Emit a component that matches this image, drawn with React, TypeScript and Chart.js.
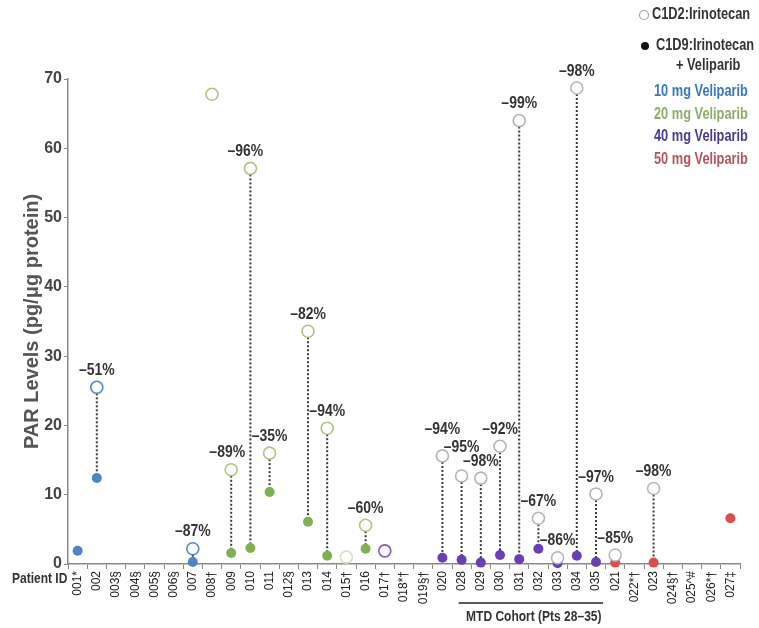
import React, { useEffect, useRef } from "react";
import { Chart, registerables } from "chart.js";

Chart.register(...registerables);

const patients = ["001*", "002", "003§", "004§", "005§", "006§", "007", "008†", "009", "010", "011", "012§", "013", "014", "015†", "016", "017†", "018*†", "019§†", "020", "028", "029", "030", "031", "032", "033", "034", "035", "021", "022*†", "023", "024§†", "025^#", "026*†", "027‡"];

const doseMg = [10, 10, 10, 10, 10, 10, 10, 20, 20, 20, 20, 20, 20, 20, 20, 20, 40, 40, 40, 40, 40, 40, 40, 40, 40, 40, 40, 40, 50, 50, 50, 50, 50, 50, 50];

const c1d2Irinotecan = [null, 25.5, null, null, null, null, 2.2, 67.8, 13.6, 57.1, 16.0, null, 33.6, 19.6, 1.0, 5.6, 1.9, null, null, 15.6, 12.7, 12.4, 17.0, 64.0, 6.6, 0.9, 68.7, 10.1, 1.3, null, 10.9, null, null, null, null];

const c1d9IrinotecanVeliparib = [1.9, 12.4, null, null, null, null, 0.3, null, 1.6, 2.3, 10.4, null, 6.1, 1.2, null, 2.2, null, null, null, 0.9, 0.6, 0.2, 1.3, 0.7, 2.2, 0.1, 1.2, 0.3, 0.2, null, 0.2, null, null, null, 6.6];

const pctChange = ["", "–51%", "", "", "", "", "–87%", "", "–89%", "–96%", "–35%", "", "–82%", "–94%", "", "–60%", "", "", "", "–94%", "–95%", "–98%", "–92%", "–99%", "–67%", "–86%", "–98%", "–97%", "–85%", "", "–98%", "", "", "", ""];

const yTicks = [0, 10, 20, 30, 40, 50, 60, 70];

const legendDoses = ["10 mg Veliparib", "20 mg Veliparib", "40 mg Veliparib", "50 mg Veliparib"];

// ---- styles ----
const FONT = "'Liberation Sans', Arial, sans-serif";
const filledColor: Record<number, string> = { 10: "#4f83c4", 20: "#80b150", 40: "#6a3fb5", 50: "#d8504e" };
const openColor: Record<number, string> = { 10: "#5b87c0", 20: "#aec484", 40: "#b4b4b4", 50: "#b8b8b8" };
const openOverride: Record<string, string> = { "015†": "#d8e2bf", "017†": "#7c5cb8" };
const legendColors = ["#3a77b8", "#8fab6a", "#4b3a8c", "#b5525c"];
const labelLift: Record<string, number> = { "020": 10, "028": 12 };
const labelShiftX: Record<string, number> = { "009": -4, "010": -5 };

function narrowText(ctx: any, text: string, x: number, y: number, align: string, sx: number) {
  ctx.save();
  ctx.translate(x, y);
  ctx.scale(sx, 1);
  ctx.textAlign = align;
  ctx.fillText(text, 0, 0);
  ctx.restore();
}

const overlayPlugin = {
  id: "overlay",
  beforeDatasetsDraw(chart: any) {
    const ctx = chart.ctx;
    const x = chart.scales.x;
    const y = chart.scales.y;
    ctx.save();
    ctx.strokeStyle = "#3a3a3a";
    ctx.lineWidth = 2;
    ctx.setLineDash([2, 2]);
    patients.forEach((p, i) => {
      const a = c1d2Irinotecan[i];
      const b = c1d9IrinotecanVeliparib[i];
      if (a == null || b == null) return;
      const px = x.getPixelForValue(i);
      ctx.beginPath();
      ctx.moveTo(px, y.getPixelForValue(a) + 6);
      ctx.lineTo(px, y.getPixelForValue(b));
      ctx.stroke();
    });
    ctx.restore();
  },
  afterDatasetsDraw(chart: any) {
    const ctx = chart.ctx;
    const x = chart.scales.x;
    const y = chart.scales.y;
    ctx.save();
    ctx.font = `bold 17px ${FONT}`;
    ctx.fillStyle = "#333";
    ctx.textBaseline = "middle";
    patients.forEach((p, i) => {
      const t = pctChange[i];
      const a = c1d2Irinotecan[i];
      if (!t || a == null) return;
      const px = x.getPixelForValue(i) + (labelShiftX[p] || 0);
      const py = y.getPixelForValue(a) - 17 - (labelLift[p] || 0);
      narrowText(ctx, t, px, py, "center", 0.82);
    });

    // Patient ID
    ctx.font = `bold 15px ${FONT}`;
    narrowText(ctx, "Patient ID", 12, 579, "left", 0.8);

    // MTD cohort bracket
    const x0 = x.getPixelForValue(20) - 3;
    const x1 = x.getPixelForValue(27) + 7;
    ctx.strokeStyle = "#222";
    ctx.lineWidth = 1.5;
    ctx.beginPath();
    ctx.moveTo(x0, 603);
    ctx.lineTo(x1, 603);
    ctx.stroke();
    ctx.font = `bold 15px ${FONT}`;
    narrowText(ctx, "MTD Cohort (Pts 28–35)", (x0 + x1) / 2 + 3, 617, "center", 0.8);

    // legend
    ctx.font = `bold 16px ${FONT}`;
    ctx.strokeStyle = "#a0a0a0";
    ctx.lineWidth = 1.2;
    ctx.beginPath();
    ctx.arc(644, 15, 4.5, 0, Math.PI * 2);
    ctx.fillStyle = "#fff";
    ctx.fill();
    ctx.stroke();
    ctx.fillStyle = "#333";
    narrowText(ctx, "C1D2:Irinotecan", 652, 15, "left", 0.8);
    ctx.fillStyle = "#111";
    ctx.beginPath();
    ctx.arc(645, 46, 4, 0, Math.PI * 2);
    ctx.fill();
    ctx.fillStyle = "#333";
    narrowText(ctx, "C1D9:Irinotecan", 656, 46, "left", 0.8);
    narrowText(ctx, "+ Veliparib", 676, 66, "left", 0.8);
    legendDoses.forEach((d, k) => {
      ctx.fillStyle = legendColors[k];
      narrowText(ctx, d, 654, 92 + k * 22.5, "left", 0.8);
    });
    ctx.restore();
  },
};

export default function App() {
  const ref = useRef<HTMLCanvasElement | null>(null);
  useEffect(() => {
    if (!ref.current) return;
    const chart = new Chart(ref.current, {
      type: "line",
      data: {
        labels: patients,
        datasets: [
          {
            label: "C1D2:Irinotecan",
            data: c1d2Irinotecan,
            showLine: false,
            pointStyle: "circle",
            pointRadius: 6,
            pointBorderWidth: 1.6,
            pointBackgroundColor: "#ffffff",
            pointBorderColor: patients.map((p, i) => openOverride[p] || openColor[doseMg[i]]),
          },
          {
            label: "C1D9:Irinotecan + Veliparib",
            data: c1d9IrinotecanVeliparib,
            showLine: false,
            pointStyle: "circle",
            pointRadius: 5,
            pointBorderWidth: 0,
            pointBackgroundColor: doseMg.map((d) => filledColor[d]),
            pointBorderColor: doseMg.map((d) => filledColor[d]),
          },
        ],
      },
      options: {
        animation: false,
        responsive: true,
        maintainAspectRatio: false,
        clip: false,
        layout: { padding: { top: 79, right: 19, left: 0, bottom: 0 } },
        plugins: { legend: { display: false }, tooltip: { enabled: false } },
        scales: {
          x: {
            type: "category",
            offset: true,
            grid: { offset: true, drawOnChartArea: false, drawTicks: true, tickLength: 5, color: "#888" },
            border: { color: "#888", width: 1.5 },
            ticks: {
              autoSkip: false,
              minRotation: 90,
              maxRotation: 90,
              padding: 2,
              color: "#222",
              font: { family: FONT, size: 12 },
            },
            afterFit: (s: any) => {
              s.height = 64;
            },
          },
          y: {
            min: 0,
            max: 70,
            afterBuildTicks: (s: any) => {
              s.ticks = yTicks.map((v) => ({ value: v }));
            },
            grid: { drawOnChartArea: false, drawTicks: true, tickLength: 4, color: "#888" },
            border: { color: "#888", width: 1.5 },
            ticks: {
              padding: 2,
              color: "#444",
              font: { family: FONT, size: 16, weight: "bold" },
            },
            title: {
              display: true,
              text: "PAR Levels (pg/μg protein)",
              color: "#555",
              font: { family: FONT, size: 20, weight: "bold" },
              padding: { top: 20, bottom: 0 },
            },
            afterFit: (s: any) => {
              s.width = 68;
            },
          },
        },
      },
      plugins: [overlayPlugin],
    } as any);
    return () => chart.destroy();
  }, []);
  return (
    <div style={{ position: "fixed", left: 0, top: 0, width: 759, height: 628, background: "#fff" }}>
      <canvas ref={ref} />
    </div>
  );
}
